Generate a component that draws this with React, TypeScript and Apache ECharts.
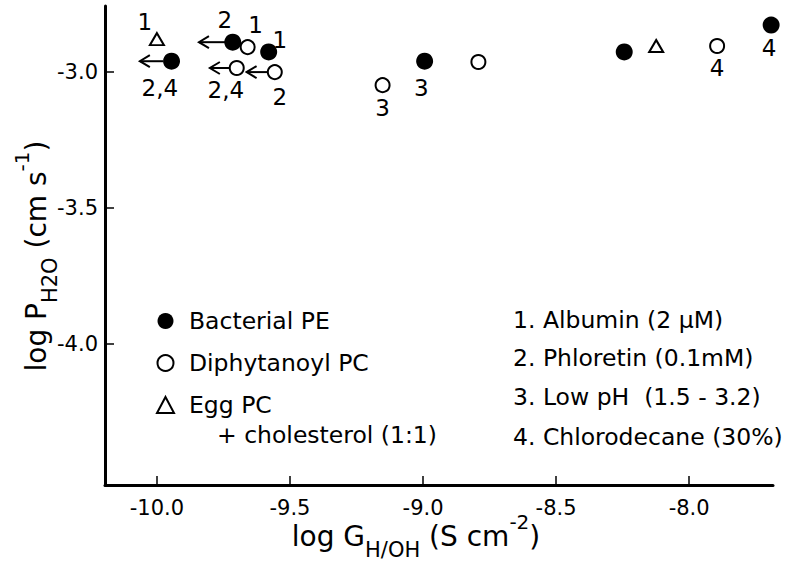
import React, { useEffect, useRef } from "react";
import * as echarts from "echarts";

const xTicks = [-10, -9.5, -9, -8.5, -8];
const yTicks = [-3, -3.5, -4];

const seriesNames = ["Bacterial PE", "Diphytanoyl PC", "Egg PC"];
const bacterialPE = [
  [-9.945, -2.96],
  [-9.715, -2.89],
  [-9.58, -2.926],
  [-8.994, -2.96],
  [-8.244, -2.926],
  [-7.692, -2.827],
];
const diphytanoylPC = [
  [-9.659, -2.908],
  [-9.7, -2.985],
  [-9.557, -3.0],
  [-9.152, -3.048],
  [-8.792, -2.963],
  [-7.895, -2.904],
];
const eggPC = [
  [-10.0, -2.879],
  [-8.124, -2.904],
];
// [tipX, tailX, y]
const arrows = [
  [-10.064, -9.977, -2.96],
  [-9.842, -9.737, -2.89],
  [-9.801, -9.726, -2.985],
  [-9.663, -9.583, -3.0],
];
const annotations: [number, number, string][] = [
  [-10.045, -2.816, "1"],
  [-9.989, -3.059, "2,4"],
  [-9.745, -2.809, "2"],
  [-9.629, -2.827, "1"],
  [-9.538, -2.882, "1"],
  [-9.741, -3.066, "2,4"],
  [-9.538, -3.092, "2"],
  [-9.152, -3.132, "3"],
  [-9.006, -3.059, "3"],
  [-7.895, -2.985, "4"],
  [-7.7, -2.912, "4"],
];
const conditions = [
  "1. Albumin (2 μM)",
  "2. Phloretin (0.1mM)",
  "3. Low pH  (1.5 - 3.2)",
  "4. Chlorodecane (30%)",
];
const eggNote = "+ cholesterol (1:1)";

const FONT = "DejaVu Sans";
const INK = "#000";
const FW = "normal";

export default function App() {
  const ref = useRef<HTMLDivElement>(null);
  useEffect(() => {
    if (!ref.current) return;
    const chart = echarts.init(ref.current, null, { renderer: "svg" });
    const condY = [320, 358, 397, 437];
    const txt = { fontSize: 23.5, fontFamily: FONT, fontWeight: FW, fill: INK };
    const rich = {
      m: { fontSize: 28, lineHeight: 48, verticalAlign: "middle", fontFamily: FONT, fontWeight: FW, fill: INK },
      s: { fontSize: 21, lineHeight: 21, verticalAlign: "bottom", fontFamily: FONT, fontWeight: FW, fill: INK },
      p: { fontSize: 20, lineHeight: 20, verticalAlign: "top", fontFamily: FONT, fontWeight: FW, fill: INK },
    };
    const option: any = {
      animation: false,
      backgroundColor: "#fff",
      textStyle: { fontFamily: FONT, color: INK },
      grid: { left: 105, right: 12, top: 6, bottom: 82, containLabel: false, outerBoundsMode: "none" },
      xAxis: {
        type: "value",
        min: -10.195,
        max: -7.685,
        axisLine: { show: true, onZero: false, lineStyle: { color: "#000", width: 3 } },
        axisTick: { show: true, inside: true, length: 9, lineStyle: { color: "#000", width: 1.5 }, customValues: xTicks },
        axisLabel: {
          show: true,
          customValues: xTicks,
          margin: 12,
          fontSize: 21,
          fontFamily: FONT,
          fontWeight: FW,
          color: INK,
          formatter: (v: number) => v.toFixed(1),
        },
        splitLine: { show: false },
      },
      yAxis: {
        type: "value",
        min: -4.518,
        max: -2.757,
        axisLine: { show: true, onZero: false, lineStyle: { color: "#000", width: 3 } },
        axisTick: { show: true, inside: true, length: 9, lineStyle: { color: "#000", width: 1.5 }, customValues: yTicks },
        axisLabel: {
          show: true,
          customValues: yTicks,
          margin: 7,
          fontSize: 21,
          fontFamily: FONT,
          fontWeight: FW,
          color: INK,
          formatter: (v: number) => v.toFixed(1),
        },
        splitLine: { show: false },
      },
      legend: {
        data: seriesNames,
        orient: "vertical",
        left: 151,
        top: 304,
        itemWidth: 17,
        itemHeight: 16,
        itemGap: 18,
        textStyle: { fontSize: 23.5, fontFamily: FONT, fontWeight: FW, color: INK, padding: [0, 0, 0, 10] },
        selectedMode: false,
      },
      graphic: [
        {
          type: "text",
          x: 217,
          y: 435,
          style: { ...txt, text: eggNote, align: "left", verticalAlign: "middle" },
        },
        ...conditions.map((c, i) => ({
          type: "text",
          x: 513,
          y: condY[i],
          style: { ...txt, text: c, align: "left", verticalAlign: "middle" },
        })),
        {
          type: "text",
          x: 416,
          y: 536,
          style: {
            text: "{m|log G}{s|H/OH}{m| (S cm}{p|-2}{m|)}",
            align: "center",
            verticalAlign: "middle",
            fill: INK,
            fontFamily: FONT,
            rich,
          },
        },
        {
          type: "text",
          x: 36,
          y: 256,
          rotation: Math.PI / 2,
          style: {
            text: "{m|log P}{s|H2O}{m| (cm s}{p|-1}{m|)}",
            align: "center",
            verticalAlign: "middle",
            fill: INK,
            fontFamily: FONT,
            rich,
          },
        },
      ],
      series: [
        {
          type: "custom",
          name: "arrows",
          silent: true,
          data: arrows,
          renderItem: (_p: any, api: any) => {
            const tip = api.coord([api.value(0), api.value(2)]);
            const tail = api.coord([api.value(1), api.value(2)]);
            return {
              type: "group",
              children: [
                {
                  type: "line",
                  shape: { x1: tail[0], y1: tail[1], x2: tip[0], y2: tip[1] },
                  style: { stroke: "#000", lineWidth: 2 },
                },
                {
                  type: "polyline",
                  shape: { points: [[tip[0] + 10, tip[1] - 6], [tip[0], tip[1]], [tip[0] + 10, tip[1] + 6]] },
                  style: { stroke: "#000", lineWidth: 2, fill: "none" },
                },
              ],
            };
          },
        },
        {
          type: "scatter",
          name: seriesNames[1],
          data: diphytanoylPC,
          symbol: "circle",
          symbolSize: 14,
          clip: false,
          itemStyle: { color: "#fff", borderColor: "#000", borderWidth: 2, opacity: 1 },
        },
        {
          type: "scatter",
          name: seriesNames[0],
          data: bacterialPE,
          symbol: "circle",
          symbolSize: 17,
          clip: false,
          itemStyle: { color: "#000", borderColor: "#000", borderWidth: 0, opacity: 1 },
        },
        {
          type: "scatter",
          name: seriesNames[2],
          data: eggPC,
          symbol: "triangle",
          symbolSize: [14, 12],
          clip: false,
          itemStyle: { color: "#fff", borderColor: "#000", borderWidth: 2, opacity: 1 },
        },
        {
          type: "scatter",
          name: "annotations",
          silent: true,
          clip: false,
          symbolSize: 0,
          itemStyle: { color: "#000", opacity: 1 },
          data: annotations.map((a) => ({ value: [a[0], a[1]], name: a[2] })),
          label: {
            show: true,
            position: "inside",
            formatter: "{b}",
            fontSize: 23,
            fontFamily: FONT,
            fontWeight: FW,
            color: INK,
            opacity: 1,
          },
        },
      ],
    };
    chart.setOption(option);
    return () => chart.dispose();
  }, []);
  return (
    <div
      ref={ref}
      style={{ position: "fixed", left: 0, top: 0, width: 785, height: 567, background: "#fff" }}
    />
  );
}
